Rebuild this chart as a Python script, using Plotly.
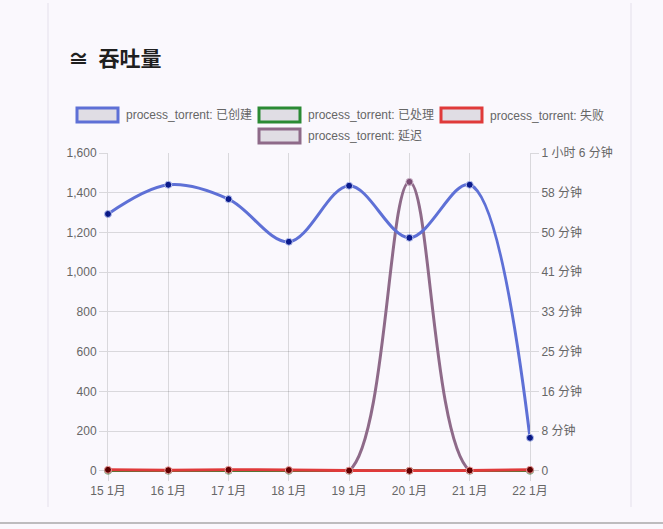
import plotly.graph_objects as go

categories = ["15 1月", "16 1月", "17 1月", "18 1月", "19 1月", "20 1月", "21 1月", "22 1月"]
created = [1293, 1440, 1368, 1153, 1435, 1173, 1440, 166]
processed = [0, 0, 0, 0, 0, 0, 0, 0]
failed = [5, 3, 5, 4, 1, 0, 2, 5]
delay_seconds = [0, 0, 0, 0, 0, 3600, 0, 0]

right_tickvals = [0, 495, 990, 1485, 1980, 2475, 2970, 3465, 3960]
right_ticktext = ["0", "8 分钟", "16 分钟", "25 分钟", "33 分钟", "41 分钟", "50 分钟", "58 分钟", "1 小时 6 分钟"]

legend_labels = ["process_torrent: 已创建", "process_torrent: 已处理", "process_torrent: 失败", "process_torrent: 延迟"]
legend_colors = ["#5e70d6", "#2a8a34", "#e03a3a", "#8e6a89"]

W, H = 663, 529
L, R, T, B = 108, 530, 153, 472
FONT = "Liberation Sans, Arial, Noto Sans CJK SC, sans-serif"
GRID = "rgba(0,0,0,0.13)"
BG = "#faf8fd"
YMIN = -6

def px(x):
    return (x - L) / (R - L)

def py(y):
    return (B - y) / (B - T)

fig = go.Figure()

# delay on base axis (right side), counts on overlay (left side) so counts draw on top
fig.add_trace(go.Scatter(x=categories, y=delay_seconds, yaxis="y", mode="lines+markers",
                         line=dict(color=legend_colors[3], width=3, shape="spline", smoothing=1.0),
                         marker=dict(size=7, color="#7a4f75", line=dict(color="#c9b0c6", width=1)),
                         cliponaxis=False, name=legend_labels[3]))
fig.add_trace(go.Scatter(x=categories, y=processed, yaxis="y2", mode="lines+markers",
                         line=dict(color=legend_colors[1], width=3, shape="spline", smoothing=1.0),
                         marker=dict(size=7, color="#0c4a12", line=dict(color="#a8d8ae", width=1)),
                         cliponaxis=False, name=legend_labels[1]))
fig.add_trace(go.Scatter(x=categories, y=failed, yaxis="y2", mode="lines+markers",
                         line=dict(color=legend_colors[2], width=3, shape="spline", smoothing=1.0),
                         marker=dict(size=7, color="#600000", line=dict(color="#f0a0a0", width=1)),
                         cliponaxis=False, name=legend_labels[2]))
fig.add_trace(go.Scatter(x=categories, y=created, yaxis="y2", mode="lines+markers",
                         line=dict(color=legend_colors[0], width=3, shape="spline", smoothing=1.0),
                         marker=dict(size=7, color="#0a1a8c", line=dict(color="#b8c2f0", width=1)),
                         cliponaxis=False, name=legend_labels[0]))

shapes = []
annotations = []

# card edges
shapes.append(dict(type="line", xref="paper", yref="paper", x0=px(48), x1=px(48), y0=py(3), y1=py(507),
                   line=dict(color="#ebe8f0", width=1.5)))
shapes.append(dict(type="line", xref="paper", yref="paper", x0=px(631), x1=px(631), y0=py(3), y1=py(507),
                   line=dict(color="#ebe8f0", width=1.5)))
shapes.append(dict(type="line", xref="paper", yref="paper", x0=px(0), x1=px(663), y0=py(523), y1=py(523),
                   line=dict(color="#a8a8a8", width=1.5)))

# custom legend (box-style like Chart.js)
legend_pos = [(77, 108), (259, 108), (441, 108), (259, 129)]
for (bx, by), lab, col in zip(legend_pos, legend_labels, legend_colors):
    shapes.append(dict(type="rect", xref="paper", yref="paper",
                       x0=px(bx), x1=px(bx + 41), y0=py(by), y1=py(by + 14),
                       fillcolor="#e0dde4", line=dict(color=col, width=3)))
    annotations.append(dict(xref="paper", yref="paper", x=px(bx + 47), y=py(by + 7),
                            text=lab, showarrow=False, xanchor="left", yanchor="middle",
                            font=dict(family=FONT, size=12, color="#666666")))

annotations.append(dict(xref="paper", yref="paper", x=px(66), y=py(57), text="<b>≅  吞吐量</b>",
                        showarrow=False, xanchor="left", yanchor="middle",
                        font=dict(family="Noto Sans CJK SC, sans-serif", size=21, color="#1f1f1f")))

tickfont = dict(family=FONT, size=12, color="#666666")

fig.update_layout(
    width=W, height=H,
    margin=dict(l=L, r=W - R, t=T, b=H - B, pad=0),
    paper_bgcolor=BG, plot_bgcolor=BG,
    showlegend=False,
    shapes=shapes, annotations=annotations,
    xaxis=dict(type="category", range=[0, 7], showgrid=True, gridcolor=GRID, gridwidth=1,
               ticks="outside", ticklen=8, tickcolor=GRID, showline=False, zeroline=False,
               tickfont=tickfont),
    yaxis=dict(range=[YMIN * 3960 / 1600, 3960], side="right", tickvals=right_tickvals,
               ticktext=right_ticktext, showgrid=True, gridcolor=GRID, ticks="outside", ticklen=8,
               tickcolor=GRID, showline=True, linecolor=GRID, zeroline=False, tickfont=tickfont),
    yaxis2=dict(range=[YMIN, 1600], overlaying="y", side="left", tickvals=list(range(0, 1601, 200)),
                tickformat=",", showgrid=False, ticks="outside", ticklen=8, tickcolor=GRID,
                showline=True, linecolor=GRID, zeroline=False, tickfont=tickfont),
)

fig.write_html("out.html", config={"displayModeBar": False},
               post_script="document.body.style.margin='0';document.body.style.background='#faf8fd';document.body.style.overflow='hidden';")
